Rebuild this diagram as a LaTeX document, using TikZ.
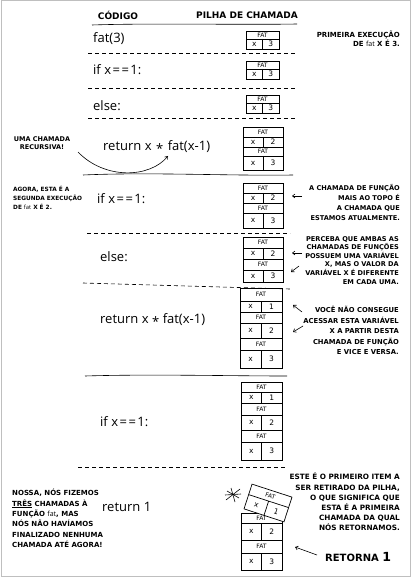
\documentclass[tikz,border=0pt]{standalone}
\usepackage{fontspec}
\setmainfont{Open Sans}
\newfontfamily\annf{DejaVu Sans}
\newfontfamily\codef{Open Sans}
\usetikzlibrary{arrows.meta}
\newcommand\fr[7]{%
  \draw[stk] (#2,#4) rectangle (#3,#6);
  \draw[stk] (#2,#5) -- (#3,#5);
  \draw[stk] ({(#2+#3)/2},#5) -- ({(#2+#3)/2},#6);
  \node[fatlbl] (#1f) at ({(#2+#3)/2},{(#4+#5)/2}) {FAT};
  \node[cell] (#1x) at ({(3*#2+#3)/4},{(#5+#6)/2}) {x};
  \node[cell] (#1v) at ({(#2+3*#3)/4},{(#5+#6)/2}) {#7};
}
\newcommand\eqs{x\kern1.5pt=\kern1.5pt=\kern1.5pt1}
\newcommand\mul[1]{\kern#1\raisebox{-2.5pt}{*}\kern#1}
\tikzset{
  stk/.style={line width=0.7pt, black},
  fatlbl/.style={font=\annf\fontsize{6}{6}\selectfont, inner sep=0},
  cell/.style={font=\annf\fontsize{7.5}{7.5}\selectfont, inner sep=0},
  code/.style={font=\codef\fontsize{13}{13}\selectfont, anchor=west, inner sep=0},
  hdr/.style={font=\annf\bfseries\fontsize{9}{10}\selectfont, inner sep=0},
  annr/.style={font=\annf\bfseries\fontsize{7}{9}\selectfont, inner sep=0, align=right, anchor=north east},
  annl/.style={font=\annf\bfseries\fontsize{7}{9}\selectfont, inner sep=0, align=left, anchor=north west},
  dsh/.style={dash pattern=on 4pt off 3pt, line width=0.6pt},
  sol/.style={line width=0.6pt},
  arr/.style={-{Straight Barb[length=2.5pt,width=4pt]}, line width=0.6pt},
}
\begin{document}
\begin{tikzpicture}[x=1pt,y=-1pt]
\useasboundingbox (0,0) rectangle (411,577);
\draw[black!25, line width=1pt] (1,1) rectangle (410,576);

% header
\node[hdr] (hcod) at (118,15) {CÓDIGO};
\node[hdr] (hpil) at (247,15) {PILHA DE CHAMADA};
\draw[sol] (92,25) .. controls (150,23) and (240,25) .. (297,24);

% separators
\draw[dsh] (88,53) -- (295,53);
\draw[dsh] (88,88) -- (295,88);
\draw[dsh] (88,118) -- (295,118);
\draw[sol] (83,175) .. controls (150,172) and (230,176) .. (293,175);
\draw[dsh] (87,233) -- (290,233);
\draw[dsh] (83,283) -- (290,289);
\draw[sol] (85,376) .. controls (150,374) and (230,376) .. (287,376);
\draw[dsh] (78,467) -- (287,467);

% code
\node[code] (c1) at (93,39) {fat(3)};
\node[code] (c2) at (93,70) {if \eqs:};
\node[code] (c3) at (93,106) {else:};
\node[code] (c4) at (103,147) {return x\mul{4.5pt}fat(x-1)};
\node[code] (c5) at (97,199) {if \eqs:};
\node[code] (c6) at (100,257) {else:};
\node[code] (c7) at (100,320) {return x\mul{3.5pt}fat(x-1)};
\node[code] (c8) at (100,422) {if \eqs:};
\node[code] (c9) at (102,507) {return 1};

% stacks
\fr{s1}{246}{279}{31}{39}{49}{3}
\fr{s2}{246}{279}{61}{69}{79}{3}
\fr{s3}{246}{279}{95}{103}{113}{3}
\fr{s4a}{243}{283}{127}{137}{147}{2}
\fr{s4b}{243}{283}{147}{156}{170}{3}
\fr{s5a}{243}{283}{183}{193}{203}{2}
\fr{s5b}{243}{283}{203}{213}{228}{3}
\fr{s6a}{243}{283}{237}{248}{259}{2}
\fr{s6b}{243}{283}{259}{270}{282}{3}
\fr{s7a}{240}{282}{288}{301}{312}{1}
\fr{s7b}{240}{282}{312}{323}{338}{2}
\fr{s7c}{240}{282}{338}{350}{368}{3}
\fr{s8a}{241}{282}{382}{392}{403}{1}
\fr{s8b}{241}{282}{403}{415}{430}{2}
\fr{s8c}{241}{282}{430}{442}{460}{3}
\fr{s9b}{241}{282}{513}{523}{540}{2}
\fr{s9c}{241}{282}{540}{553}{570}{3}
\begin{scope}[shift={(268,503)}, rotate=-18, every node/.append style={transform shape}]
  \fill[white] (-21,-13) rectangle (21,13);
  \fr{s9a}{-21}{21}{-13}{-2}{13}{1}
\end{scope}

% star scribble
\draw[sol] (226,500) -- (240,489);
\draw[sol] (227,491) -- (239,498);
\draw[sol] (231,488) -- (235,502);
\draw[sol] (225,495) -- (241,494);

% annotations
\node[annr] (a1) at (400,31) {PRIMEIRA EXECUÇÃO\\DE {\codef\mdseries fat} X É 3.};
\node[font=\annf\bfseries\fontsize{6.5}{8}\selectfont, inner sep=0, align=center] (a4) at (42,143) {UMA CHAMADA\\RECURSIVA!};
\coordinate (c4s) at (78,152);
\coordinate (c4e) at (168,156);
\draw[arr] (c4s) .. controls (105,180) and (150,178) .. (c4e);
\node[annl, font=\annf\bfseries\fontsize{5.8}{9}\selectfont] (a5l) at (13,186) {AGORA, ESTA É A\\SEGUNDA EXECUÇÃO\\DE {\codef\mdseries fat} X É 2.};
\node[annr, font=\annf\bfseries\fontsize{6.6}{10}\selectfont] (a5r) at (400,184) {A CHAMADA DE FUNÇÃO\\MAIS AO TOPO É\\A CHAMADA QUE\\ESTAMOS ATUALMENTE.};
\coordinate (p5) at (302,196);
\coordinate (q5) at (292,196);
\draw[arr] (p5) -- (q5);
\node[annr, font=\annf\bfseries\fontsize{6.6}{8.6}\selectfont] (a6) at (399,236) {PERCEBA QUE AMBAS AS\\CHAMADAS DE FUNÇÕES\\POSSUEM UMA VARIÁVEL\\X, MAS O VALOR DA\\VARIÁVEL X É DIFERENTE\\EM CADA UMA.};
\coordinate (p6a) at (302,253);
\coordinate (q6a) at (292,253);
\draw[arr] (p6a) -- (q6a);
\coordinate (p6b) at (299,266);
\coordinate (q6b) at (291,272);
\draw[arr] (p6b) -- (q6b);
\node[annr, font=\annf\bfseries\fontsize{6.8}{10.5}\selectfont] (a7) at (399,306) {VOCÊ NÃO CONSEGUE\\ACESSAR ESTA VARIÁVEL\\X A PARTIR DESTA\\CHAMADA DE FUNÇÃO\\E VICE E VERSA.};
\coordinate (p7a) at (302,312);
\coordinate (q7a) at (293,305);
\draw[arr] (p7a) -- (q7a);
\coordinate (p7b) at (303,326);
\coordinate (q7b) at (293,332);
\draw[arr] (p7b) -- (q7b);
\node[annl, font=\annf\bfseries\fontsize{7}{10.4}\selectfont] (a9l) at (12,489) {NOSSA, NÓS FIZEMOS\\\underline{TRÊS} CHAMADAS À\\FUNÇÃO {\codef\mdseries fat}, MAS\\NÓS NÃO HAVÍAMOS\\FINALIZADO NENHUMA\\CHAMADA ATÉ AGORA!};
\node[annr, font=\annf\bfseries\fontsize{7.3}{10.2}\selectfont] (a9r) at (400,473) {ESTE É O PRIMEIRO ITEM A\\SER RETIRADO DA PILHA,\\O QUE SIGNIFICA QUE\\ESTA É A PRIMEIRA\\CHAMADA DA QUAL\\NÓS RETORNAMOS.};
\node[font=\annf\bfseries\fontsize{10}{10}\selectfont, inner sep=0, anchor=west] (ret) at (325,557) {RETORNA {\fontsize{12.5}{12.5}\selectfont 1}};
\coordinate (p9) at (317,555);
\coordinate (q9) at (295,547);
\draw[arr] (p9) -- (q9);
\end{tikzpicture}
\end{document}
